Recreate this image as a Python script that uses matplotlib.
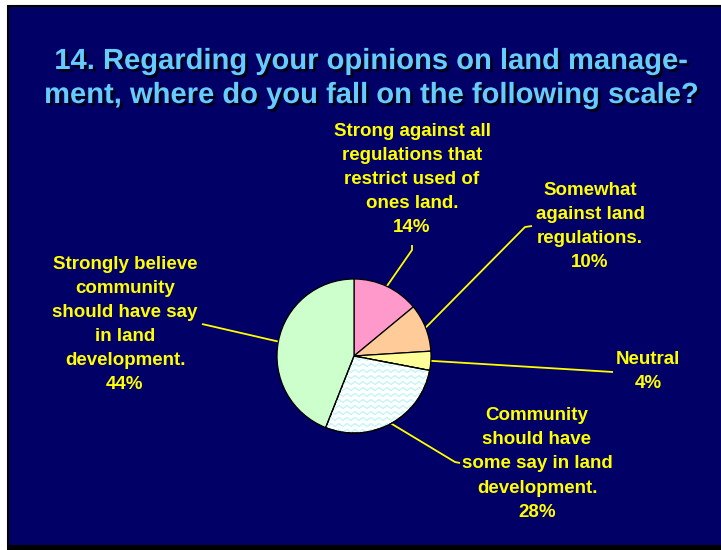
import numpy as np
import matplotlib
matplotlib.use("Agg")
import matplotlib.pyplot as plt
import matplotlib.patheffects as pe
from matplotlib.patches import Rectangle, Wedge

# ---- data ----
categories = [
    "Strong against all\nregulations that\nrestrict used of\nones land.",
    "Somewhat\nagainst land\nregulations.",
    "Neutral",
    "Community\nshould have\nsome say in land\ndevelopment.",
    "Strongly believe\ncommunity\nshould have say\nin land\ndevelopment.",
]
values = [14, 10, 4, 28, 44]
colors = ["#ff99cc", "#ffcc99", "#ffff99", "#ffffff", "#ccffcc"]
title_lines = ["14. Regarding your opinions on land manage-",
               "ment, where do you fall on the following scale?"]

# ---- layout (image pixel coords, y down) ----
W, H = 721, 550
def Y(y):
    return H - y

label_pos = [(412, 179.5), (590, 226.5), (648, 371.5), (537, 464), (125, 324.5)]
leader_pts = [
    [(412, 250), (412, 245)],
    [(525, 227), (532, 226)],
    [(613, 372)],
    [(455, 462), (460, 463)],
    [(202, 324)],
]
NAVY = "#000066"
YEL = "#ffff00"
FONT = "Liberation Sans"

fig = plt.figure(figsize=(W / 100, H / 100), dpi=100, facecolor="white")
ax = fig.add_axes([0, 0, 1, 1])

# slide background
ax.add_patch(Rectangle((7.5, Y(546)), W - 7.5 + 2, 546 - 5.5, facecolor=NAVY,
                       edgecolor="black", linewidth=1.5, zorder=0))
ax.add_patch(Rectangle((7, 0), W, Y(546), facecolor="black", edgecolor="none", zorder=0.5))

# title with shadow
shadow = [pe.SimplePatchShadow(offset=(2, -2), shadow_rgbFace="#000018", alpha=1.0), pe.Normal()]
for line, yb in zip(title_lines, [69, 103]):
    ax.text(371, Y(yb), line, ha="center", va="baseline", fontsize=21,
            fontweight="bold", family=FONT, color="#66ccff", zorder=4,
            path_effects=shadow)

# pie
cx, cy, r = 354, Y(356), 77
wedges, _ = ax.pie(values, colors=colors, startangle=90, counterclock=False,
                   center=(cx, cy), radius=r, frame=True,
                   wedgeprops=dict(edgecolor="black", linewidth=0.9))
for w in wedges:
    w.set_zorder(2)
ax.set_xlim(0, W)
ax.set_ylim(0, H)
ax.set_aspect("equal")
ax.axis("off")

# zigzag pattern on the 28% slice
zz = wedges[3]
xs = np.arange(cx - r - 10, cx + r + 10, 4.0)
for y0 in np.arange(cy - r - 10, cy + r + 10, 6.0):
    ys = y0 + np.where(np.arange(len(xs)) % 2 == 0, 1.5, -1.5)
    ln, = ax.plot(xs, ys, color="#bff5f7", linewidth=0.9, zorder=2.1)
    ln.set_clip_path(zz)
ax.add_patch(Wedge((cx, cy), r, zz.theta1, zz.theta2, facecolor="none",
                   edgecolor="black", linewidth=0.9, zorder=2.2))

# labels and leader lines
for i, w in enumerate(wedges):
    mid = np.deg2rad((w.theta1 + w.theta2) / 2)
    sx, sy = cx + r * np.cos(mid), cy + r * np.sin(mid)
    px = [sx] + [p[0] for p in leader_pts[i]]
    py = [sy] + [Y(p[1]) for p in leader_pts[i]]
    ax.plot(px, py, color=YEL, linewidth=1.3, zorder=1.5, solid_capstyle="butt")
    lx, ly = label_pos[i]
    ax.text(lx, Y(ly), f"{categories[i]}\n{values[i]}%", ha="center", va="center",
            fontsize=13.5, fontweight="bold", family=FONT, color=YEL,
            linespacing=1.55, zorder=5)

fig.savefig("out.png", dpi=100, facecolor="white")
